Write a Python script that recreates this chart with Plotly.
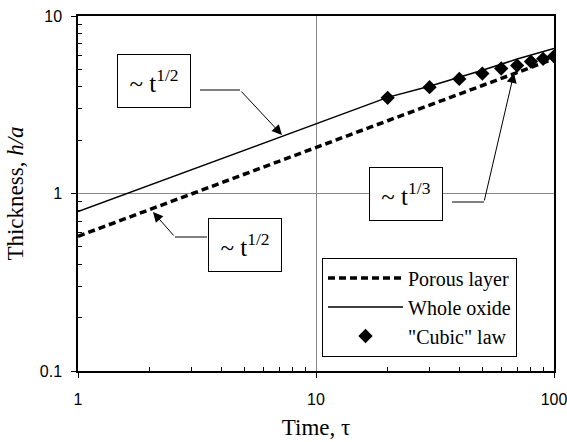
import plotly.graph_objects as go

# ---- data ----
porous_t = [1, 2, 5, 10, 20, 50, 100]
porous_h = [0.574, 0.81, 1.28, 1.81, 2.57, 4.06, 5.74]

whole_t = [1, 5, 10, 20, 30, 40, 50, 70, 100]
whole_h = [0.79, 1.76, 2.47, 3.48, 4.02, 4.50, 4.95, 5.72, 6.56]

cubic_t = [20, 30, 40, 50, 60, 70, 80, 90, 100]
cubic_h = [3.46, 3.97, 4.42, 4.74, 5.06, 5.26, 5.54, 5.74, 5.93]

x_ticks = [1, 10, 100]
x_ticktext = ["1", "10", "100"]
y_ticks = [0.1, 1, 10]
y_ticktext = ["0.1", "1", "10"]
x_minor = [2, 3, 4, 5, 6, 7, 8, 9, 20, 30, 40, 50, 60, 70, 80, 90]
y_minor = [0.2, 0.3, 0.4, 0.5, 0.6, 0.7, 0.8, 0.9, 2, 3, 4, 5, 6, 7, 8, 9]

# ---- layout geometry ----
W, H = 567, 442
ML, MR, MT, MB = 78, 13, 16, 71
PW, PH = W - ML - MR, H - MT - MB

def px(x):
    return (x - ML) / PW

def py(y):
    return (H - MB - y) / PH

SERIF = "Liberation Serif, Times New Roman, serif"
SANS = "Liberation Sans, Arial, sans-serif"

fig = go.Figure()
fig.add_trace(go.Scatter(x=porous_t, y=porous_h, mode="lines", name="Porous layer",
                         line=dict(color="black", width=3.5, dash="7px,4px")))
fig.add_trace(go.Scatter(x=whole_t, y=whole_h, mode="lines", name="Whole oxide",
                         line=dict(color="black", width=1.5)))
fig.add_trace(go.Scatter(x=cubic_t, y=cubic_h, mode="markers", name='"Cubic" law',
                         marker=dict(symbol="diamond", size=11, color="black")))

axis_common = dict(
    type="log", showline=True, linecolor="black", linewidth=1.5, mirror=True,
    showgrid=True, gridcolor="#888888", gridwidth=0.8,
    ticks="outside", ticklen=5, tickcolor="black", tickwidth=1,
    tickfont=dict(family=SANS, size=16, color="black"),
    zeroline=False, automargin=False, ticklabeloverflow="allow",
)

fig.update_xaxes(
    **axis_common, range=[0, 2], tickmode="array", tickvals=x_ticks, ticktext=x_ticktext,
    ticklabelstandoff=8,
    minor=dict(tickmode="array", tickvals=x_minor, ticks="inside", ticklen=4,
               tickcolor="black", showgrid=False),
    title=dict(text="Time, τ", font=dict(family=SERIF, size=23, color="black"), standoff=12),
)
fig.update_yaxes(
    **axis_common, range=[-1, 1], tickmode="array", tickvals=y_ticks, ticktext=y_ticktext,
    ticklabelstandoff=6,
    minor=dict(tickmode="array", tickvals=y_minor, ticks="inside", ticklen=4,
               tickcolor="black", showgrid=False),
    title=dict(text="Thickness, <i>h/a</i>", font=dict(family=SERIF, size=23, color="black"),
               standoff=10),
)

# annotation boxes
boxes = [((154, 81), "~ t<sup>1/2</sup>"), ((245, 245), "~ t<sup>1/2</sup>"),
         ((406, 194), "~ t<sup>1/3</sup>")]
annotations = []
for (cx, cy), txt in boxes:
    annotations.append(dict(
        x=px(cx), y=py(cy), xref="paper", yref="paper", text=txt, showarrow=False,
        font=dict(family=SERIF, size=25, color="black"),
        bordercolor="black", borderwidth=1, borderpad=0, bgcolor="white",
        width=72, height=52, xanchor="center", yanchor="middle",
    ))

# leader lines: horizontal part as shape, slanted part as arrow
leaders = [((200, 90), (240, 90), (282, 135)),
           ((207, 237), (175, 237), (153, 212)),
           ((452, 202), (484, 202), (514, 73))]
shapes = []
for (sx, sy), (kx, ky), (tx, ty) in leaders:
    shapes.append(dict(type="line", xref="paper", yref="paper",
                       x0=px(sx), y0=py(sy), x1=px(kx), y1=py(ky),
                       line=dict(color="black", width=1)))
    annotations.append(dict(
        x=px(tx), y=py(ty), xref="paper", yref="paper", text="", showarrow=True,
        ax=kx - tx, ay=ky - ty, arrowhead=2, arrowsize=2, arrowwidth=1,
        arrowcolor="black", standoff=0, startstandoff=0,
    ))

fig.update_layout(
    width=W, height=H, margin=dict(l=ML, r=MR, t=MT, b=MB),
    paper_bgcolor="white", plot_bgcolor="white",
    font=dict(family=SERIF, color="black"),
    showlegend=True,
    legend=dict(x=px(322), y=py(307), xanchor="left", yanchor="middle",
                bordercolor="black", borderwidth=1, bgcolor="white",
                font=dict(family=SERIF, size=20, color="black"),
                tracegroupgap=0, itemwidth=75, entrywidth=205, entrywidthmode="pixels"),
    annotations=annotations, shapes=shapes,
)

fig.write_html("out.html")
